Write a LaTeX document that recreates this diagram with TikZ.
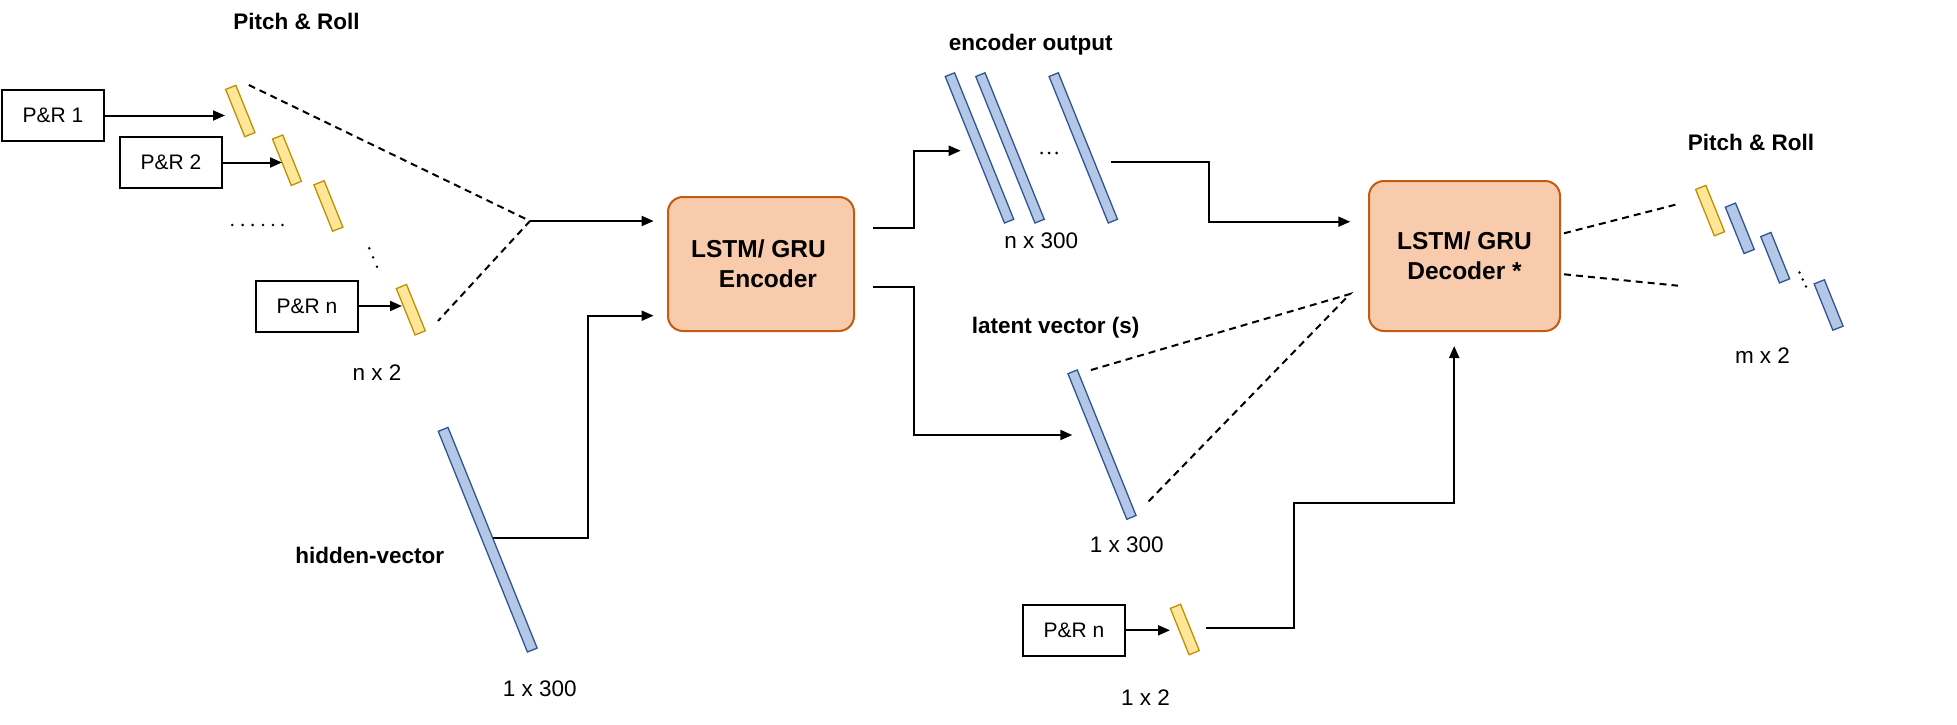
\documentclass[tikz,border=0pt]{standalone}
\usepackage{fontspec}
\setmainfont{Liberation Sans}
\usetikzlibrary{arrows.meta}
\definecolor{yfill}{HTML}{FFE699}
\definecolor{ydraw}{HTML}{BF9000}
\definecolor{bfill}{HTML}{B4C7E7}
\definecolor{bdraw}{HTML}{2F5597}
\definecolor{ofill}{HTML}{F8CBAD}
\definecolor{odraw}{HTML}{C55A11}
\begin{document}
\begin{tikzpicture}[x=1pt,y=-1pt,
 ybar/.style={draw=ydraw,fill=yfill,line width=1.3pt,minimum width=11pt,minimum height=#1,inner sep=0pt,rotate=22},
 bbar/.style={draw=bdraw,fill=bfill,line width=1.3pt,minimum width=10pt,minimum height=#1,inner sep=0pt,rotate=22},
 prbox/.style={draw,line width=2pt,minimum width=102pt,minimum height=51pt,inner sep=0pt,font=\fontsize{21}{25}\selectfont},
 rnn/.style={draw=odraw,fill=ofill,line width=2pt,rounded corners=15pt,inner sep=0pt,align=center,font=\fontsize{24.5}{30}\selectfont\bfseries},
 lbl/.style={anchor=base,inner sep=0pt,font=\fontsize{22.5}{27}\selectfont},
 blbl/.style={anchor=base,inner sep=0pt,font=\fontsize{22.5}{27}\selectfont\bfseries},
 arr/.style={line width=2pt,-{Triangle[length=12pt,width=10pt]}},
 dsh/.style={line width=2pt,dash pattern=on 7pt off 5pt}
]
\path[use as bounding box,fill=white] (0,0) rectangle (1957,725);

% input boxes
\node[prbox] (p1) at (53,115.5) {P\&R 1};
\node[prbox] (p2) at (171,162.5) {P\&R 2};
\node[prbox] (pn) at (307,306) {P\&R n};
\node[prbox] (pb) at (1074,630.3) {P\&R n};

% yellow bars
\node[ybar=51pt] (y1) at (240.3,111) {};
\node[ybar=50pt] (y2) at (287,160.2) {};
\node[ybar=50pt] (y3) at (328.4,206) {};
\node[ybar=50pt] (yn) at (410.8,309.7) {};
\node[ybar=50pt] (yb) at (1184.8,629.5) {};
\node[ybar=50pt] (yr) at (1710.1,210.6) {};

% blue bars
\node[bbar=50pt,minimum width=11pt] (r1) at (1739.8,228.3) {};
\node[bbar=50pt,minimum width=11pt] (r2) at (1775.2,257.7) {};
\node[bbar=50pt,minimum width=11pt] (r3) at (1828.6,305) {};
\node[bbar=158pt] (e1) at (979.5,147.9) {};
\node[bbar=158pt] (e2) at (1010,147.9) {};
\node[bbar=158pt] (e3) at (1083.3,147.9) {};
\node[bbar=157pt] (lat) at (1102,444.6) {};
\node[bbar=238pt,minimum width=10.5pt] (hid) at (487.7,539.7) {};

% encoder / decoder
\node[rnn,minimum width=186pt,minimum height=134pt] (enc) at (761,264) {LSTM/ GRU\hspace*{5pt}\\\hspace*{14pt}Encoder};
\node[rnn,minimum width=191pt,minimum height=150pt] (dec) at (1464.5,256) {LSTM/ GRU\\Decoder *};

% labels
\node[blbl] (t1) at (296.5,29.5) {Pitch \& Roll};
\node[lbl] (t2) at (377,380) {n x 2};
\node[blbl] (t3) at (369.7,563.3) {hidden-vector};
\node[lbl] (t4) at (539.7,696.7) {1 x 300};
\node[blbl] (t5) at (1030.8,50.7) {encoder output};
\node[lbl] (t6) at (1041.3,248.3) {n x 300};
\node[blbl] (t7) at (1055.7,333.3) {latent vector (s)};
\node[lbl] (t8) at (1126.7,552.7) {1 x 300};
\node[lbl] (t9) at (1145.5,705) {1 x 2};
\node[blbl] (t10) at (1751,150) {Pitch \& Roll};
\node[lbl] (t11) at (1762.5,363.3) {m x 2};

% connector end points
\coordinate (a1) at (225,115);
\coordinate (a2) at (282,162.5);
\coordinate (a3) at (402,306);
\coordinate (ab) at (1170,630.3);
\coordinate (m1) at (530,221);
\coordinate (d1) at (248.8,85);
\coordinate (d2) at (438,321);
\coordinate (ein1) at (653.6,221);
\coordinate (ein2) at (653.6,315.7);
\coordinate (h1) at (493.3,537.7);
\coordinate (eo1) at (873.2,227.7);
\coordinate (eo2) at (873.2,287);
\coordinate (bin) at (960.7,150.7);
\coordinate (lin) at (1072.3,435);
\coordinate (bo) at (1111,161.7);
\coordinate (din1) at (1350.3,221.7);
\coordinate (m2) at (1350,294);
\coordinate (l1) at (1091,370);
\coordinate (l2) at (1147,503);
\coordinate (do1) at (1564,233.3);
\coordinate (do2) at (1564,274.3);
\coordinate (re1) at (1677,204.3);
\coordinate (re2) at (1678,285.7);
\coordinate (yo) at (1206,627.7);
\coordinate (din2) at (1454.2,346);

% connectors
\draw[arr] (p1.east) -- (p1.east -| a1);
\draw[arr] (p2.east) -- (a2);
\draw[arr] (pn.east) -- (a3);
\draw[arr] (pb.east) -- (ab);
\draw[dsh] (d1) -- (m1) -- (d2);
\draw[arr] (m1) -- (ein1);
\draw[arr] (h1) -- (588.3,537.7) |- (ein2);
\draw[arr] (eo1) -- (914.3,227.7) |- (bin);
\draw[arr] (eo2) -- (914.3,287) |- (lin);
\draw[arr] (bo) -| (1209.4,221.7) -- (din1);
\draw[dsh] (l1) -- (m2) -- (l2);
\draw[dsh] (do1) -- (re1);
\draw[dsh] (do2) -- (re2);
\draw[arr] (yo) -| (1294.3,503.3) -| (din2);

% dots
\foreach \x in {232.3,242.6,252.6,262.9,272.9,282.4} \fill (\x,225) circle (1.4pt);
\foreach \x/\y in {369.3/248.3,373.1/257.3,377/266.7} \fill (\x,\y) circle (1.4pt);
\foreach \x in {1041.5,1049,1056.5} \fill (\x,153) circle (1.5pt);
\foreach \x/\y in {1799.4/272.5,1802.7/279.5,1806/286.5} \fill (\x,\y) circle (1.4pt);
\end{tikzpicture}
\end{document}
